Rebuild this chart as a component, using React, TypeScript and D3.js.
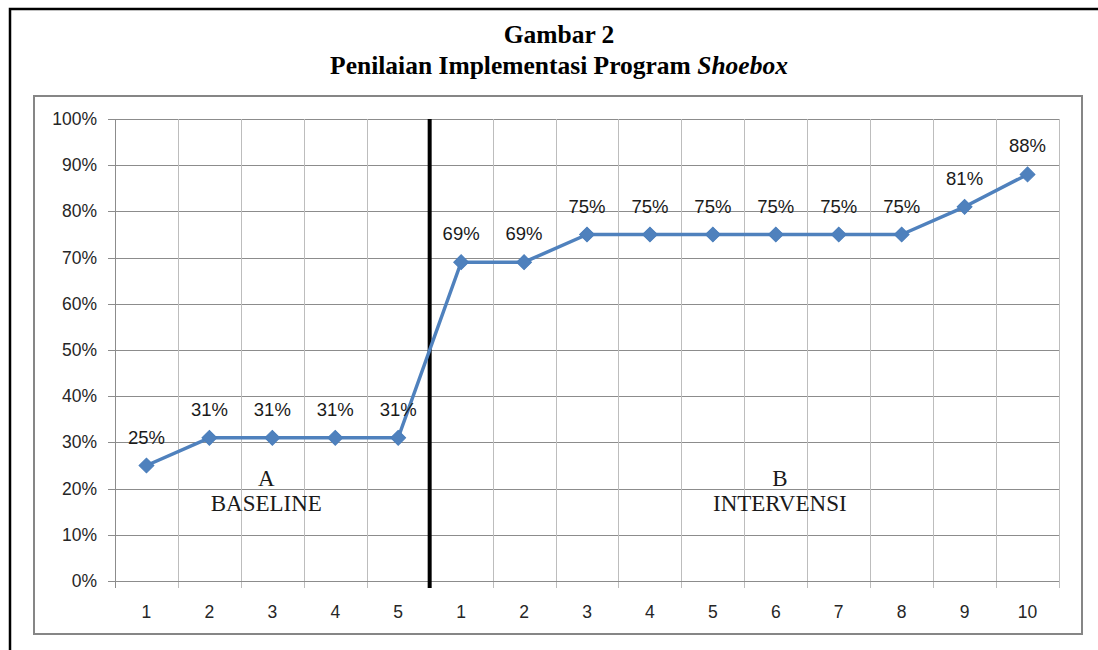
import React, { useEffect, useRef } from 'react';
import * as d3 from 'd3';

const sessions = ['1', '2', '3', '4', '5', '1', '2', '3', '4', '5', '6', '7', '8', '9', '10'];
const scores = [0.25, 0.31, 0.31, 0.31, 0.31, 0.69, 0.69, 0.75, 0.75, 0.75, 0.75, 0.75, 0.75, 0.81, 0.88];
const yTicks = [0, 0.1, 0.2, 0.3, 0.4, 0.5, 0.6, 0.7, 0.8, 0.9, 1];
const baselineCount = 5;
const phaseCodes = ['A', 'B'];
const phaseNames = ['BASELINE', 'INTERVENSI'];
// sesi tempat nama fase diletakkan (indeks kategori)
const phaseAnchor = [2, 10];

const ShoeboxChart = () => {
  const svgRef = useRef<SVGSVGElement>(null);

  useEffect(() => {
    const width = 1098;
    const height = 650;
    const plot = { left: 115, right: 1059, top: 119, bottom: 581 };

    d3.select(svgRef.current).selectAll('*').remove();
    const svg = d3.select(svgRef.current).attr('width', width).attr('height', height);

    svg.append('rect').attr('width', width).attr('height', height).attr('fill', '#fff');

    // bingkai luar (kiri + atas)
    svg.append('path')
      .attr('d', `M10,${height}V9H${width}`)
      .attr('fill', 'none').attr('stroke', '#000').attr('stroke-width', 2.5);

    // kotak grafik
    svg.append('rect')
      .attr('x', 34).attr('y', 96).attr('width', 1048).attr('height', 538)
      .attr('fill', '#fff').attr('stroke', '#868686').attr('stroke-width', 2);

    // judul
    const title = svg.append('g')
      .attr('font-family', '"Liberation Serif", serif')
      .attr('font-weight', 'bold')
      .attr('font-size', 25.5)
      .attr('fill', '#000')
      .attr('text-anchor', 'middle');
    title.append('text').attr('x', 559).attr('y', 43).text('Gambar 2');
    const t2 = title.append('text').attr('x', 559).attr('y', 74);
    t2.append('tspan').text('Penilaian Implementasi Program ');
    t2.append('tspan').attr('font-style', 'italic').text('Shoebox');

    const x = d3.scaleBand<number>()
      .domain(sessions.map((_, i) => i))
      .range([plot.left, plot.right]);
    const y = d3.scaleLinear().domain([0, 1]).range([plot.bottom, plot.top]);
    const cx = (i: number) => x(i)! + x.bandwidth() / 2;

    // garis kisi horizontal
    svg.append('g')
      .selectAll('line')
      .data(yTicks)
      .join('line')
      .attr('x1', plot.left - 7).attr('x2', plot.right)
      .attr('y1', d => Math.round(y(d)) + 0.5).attr('y2', d => Math.round(y(d)) + 0.5)
      .attr('stroke', '#8c8c8c').attr('stroke-width', 1);

    // garis kisi vertikal
    const bounds = sessions.map((_, i) => x(i)!).concat([plot.right]);
    svg.append('g')
      .selectAll('line')
      .data(bounds)
      .join('line')
      .attr('x1', d => Math.round(d) + 0.5).attr('x2', d => Math.round(d) + 0.5)
      .attr('y1', plot.top).attr('y2', plot.bottom + 7)
      .attr('stroke', (_, i) => (i === 0 ? '#8c8c8c' : '#bdbdbd')).attr('stroke-width', 1);

    svg.append('line')
      .attr('x1', plot.left - 7).attr('x2', plot.right)
      .attr('y1', Math.round(y(0)) + 0.5).attr('y2', Math.round(y(0)) + 0.5)
      .attr('stroke', '#8c8c8c');

    // label sumbu y
    svg.append('g')
      .attr('font-family', '"Liberation Sans", Arial, sans-serif')
      .attr('font-size', 17.5)
      .attr('fill', '#262626')
      .attr('text-anchor', 'end')
      .selectAll('text')
      .data(yTicks)
      .join('text')
      .attr('x', plot.left - 18)
      .attr('y', d => y(d) + 6)
      .text(d => d3.format('.0%')(d));

    // label sumbu x
    svg.append('g')
      .attr('font-family', '"Liberation Sans", Arial, sans-serif')
      .attr('font-size', 17.5)
      .attr('fill', '#262626')
      .attr('text-anchor', 'middle')
      .selectAll('text')
      .data(sessions)
      .join('text')
      .attr('x', (_, i) => cx(i))
      .attr('y', 618)
      .text(d => d);

    // garis pemisah fase
    const divX = x(baselineCount)!;
    svg.append('line')
      .attr('x1', divX).attr('x2', divX)
      .attr('y1', plot.top).attr('y2', plot.bottom + 7)
      .attr('stroke', '#000').attr('stroke-width', 4);

    // garis data
    const line = d3.line<number>()
      .x((_, i) => cx(i))
      .y(d => y(d));
    svg.append('path')
      .datum(scores)
      .attr('d', line)
      .attr('fill', 'none')
      .attr('stroke', '#4f81bd')
      .attr('stroke-width', 3.5)
      .attr('stroke-linejoin', 'round');

    // penanda diamond
    const diamond = d3.symbol().type(d3.symbolSquare).size(110);
    svg.append('g')
      .selectAll('path')
      .data(scores)
      .join('path')
      .attr('d', diamond)
      .attr('transform', (d, i) => `translate(${cx(i)},${y(d)}) rotate(45)`)
      .attr('fill', '#4f81bd')
      .attr('stroke', '#4a7ebb')
      .attr('stroke-width', 1);

    // label data
    svg.append('g')
      .attr('font-family', '"Liberation Sans", Arial, sans-serif')
      .attr('font-size', 18.5)
      .attr('fill', '#1a1a1a')
      .attr('text-anchor', 'middle')
      .selectAll('text')
      .data(scores)
      .join('text')
      .attr('x', (_, i) => cx(i))
      .attr('y', d => y(d) - 22)
      .text(d => d3.format('.0%')(d));

    // nama fase
    const phases = svg.append('g')
      .attr('font-family', '"Liberation Serif", serif')
      .attr('font-size', 23)
      .attr('fill', '#1a1a1a')
      .attr('text-anchor', 'middle');
    phaseCodes.forEach((code, k) => {
      const tx = cx(phaseAnchor[k]) - 6 + k * 10;
      phases.append('text').attr('x', tx).attr('y', 486).text(code);
      phases.append('text').attr('x', tx).attr('y', 511).text(phaseNames[k]);
    });
  }, []);

  return (
    <svg
      ref={svgRef}
      style={{ position: 'absolute', left: 0, top: 0, display: 'block' }}
    ></svg>
  );
};

export default function App() {
  return <ShoeboxChart />;
}
